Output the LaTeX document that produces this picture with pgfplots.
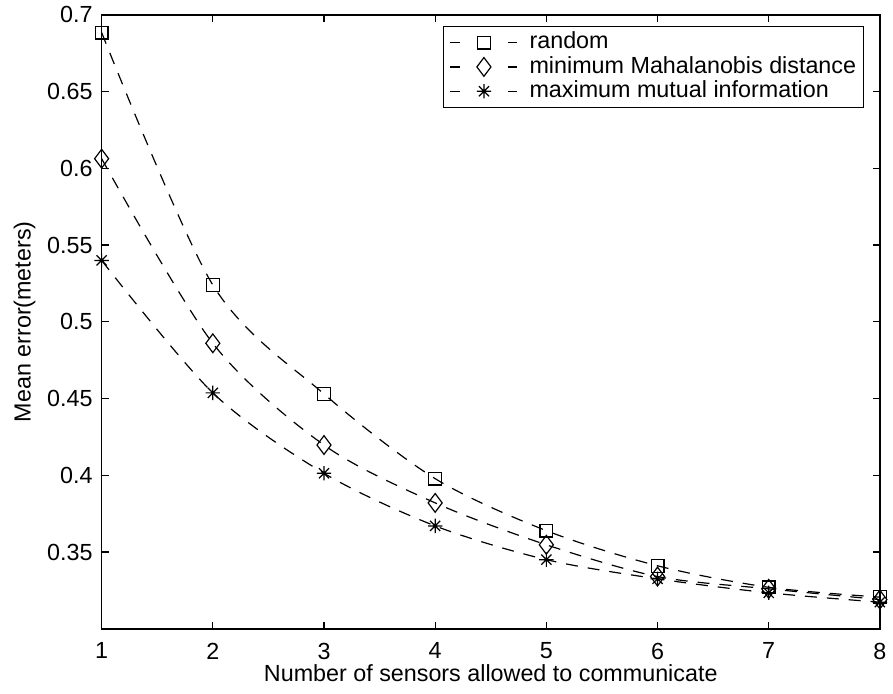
\documentclass[border=0pt]{standalone}
\usepackage{fontspec}
\setmainfont{Liberation Sans}
\usepackage{pgfplots}
\pgfplotsset{compat=1.18}

% MATLAB-style '*' marker (plus and cross on top of each other)
\pgfdeclareplotmark{mstar}{%
  \pgfpathmoveto{\pgfqpoint{-\pgfplotmarksize}{0pt}}%
  \pgfpathlineto{\pgfqpoint{\pgfplotmarksize}{0pt}}%
  \pgfpathmoveto{\pgfqpoint{0pt}{-\pgfplotmarksize}}%
  \pgfpathlineto{\pgfqpoint{0pt}{\pgfplotmarksize}}%
  \pgfpathmoveto{\pgfqpoint{-.707\pgfplotmarksize}{-.707\pgfplotmarksize}}%
  \pgfpathlineto{\pgfqpoint{.707\pgfplotmarksize}{.707\pgfplotmarksize}}%
  \pgfpathmoveto{\pgfqpoint{-.707\pgfplotmarksize}{.707\pgfplotmarksize}}%
  \pgfpathlineto{\pgfqpoint{.707\pgfplotmarksize}{-.707\pgfplotmarksize}}%
  \pgfusepathqstroke}

\begin{document}
\begin{tikzpicture}
\begin{axis}[
  scale only axis, width=390.5pt, height=308pt,
  xmin=1, xmax=8, ymin=0.3, ymax=0.7,
  xtick={1,...,8},
  ytick={0.35,0.4,0.45,0.5,0.55,0.6,0.65,0.7},
  /pgf/number format/assume math mode=true,
  yticklabel style={/pgf/number format/fixed, /pgf/number format/precision=2,
    xshift=-1pt},
  xticklabel style={yshift=-3.5pt},
  tick align=inside, major tick length=3.5pt,
  axis line style={line width=0.8pt},
  every tick/.style={line width=0.6pt, black},
  font=\fontsize{11.7}{13}\selectfont,
  ticklabel style={font=\fontsize{11.7}{13}\selectfont},
  xlabel={Number of sensors allowed to communicate},
  ylabel={Mean error(meters)},
  xlabel style={yshift=4pt},
  ylabel style={yshift=-1pt},
  every axis plot/.append style={black, line width=0.6pt,
    dash pattern=on 6pt off 5pt, smooth, tension=0.5},
  legend cell align=left,
  legend style={at={(0.9795,0.9821)}, anchor=north east,
    draw=black, line width=0.6pt, inner xsep=3pt, inner ysep=2pt,
    row sep=0pt,
    nodes={inner sep=0.6pt, text height=8.6pt, text depth=2.4pt,
      font=\fontsize{11.7}{13}\selectfont}},
  legend image code/.code={
    \draw[#1,solid,mark=none] (0pt,0pt) -- (5pt,0pt);
    \draw[#1,solid,mark=none] (29pt,0pt) -- (33.5pt,0pt);
    \draw[#1,solid] plot coordinates {(17pt,0pt)};
    \path (39pt,0pt);
  },
]
\addplot[black, mark=square, mark size=3.2pt, mark options={solid, line width=0.6pt}]
  coordinates {(1,0.6885) (2,0.524) (3,0.453) (4,0.3978) (5,0.3639)
               (6,0.341) (7,0.327) (8,0.3206)};
\addlegendentry{random}
\addplot[black, mark=diamond, mark size=4.7pt, mark options={solid, line width=0.6pt}]
  coordinates {(1,0.6063) (2,0.486) (3,0.4197) (4,0.382) (5,0.3547)
               (6,0.334) (7,0.326) (8,0.319)};
\addlegendentry{minimum Mahalanobis distance}
\addplot[black, mark=mstar, mark size=3.6pt, mark options={solid, line width=0.6pt}]
  coordinates {(1,0.540) (2,0.4537) (3,0.4013) (4,0.367) (5,0.345)
               (6,0.3325) (7,0.3234) (8,0.3173)};
\addlegendentry{maximum mutual information}
\end{axis}
\path (current axis.south west) ++(-51pt,-32.5pt);
\path (current axis.north east) ++(5pt,7pt);
\end{tikzpicture}
\end{document}
